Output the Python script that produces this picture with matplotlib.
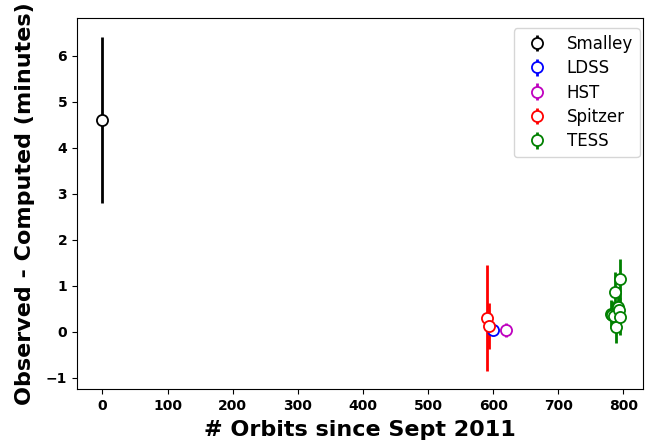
import matplotlib
matplotlib.use("Agg")
import matplotlib.pyplot as plt

smalley_x = [0]
smalley_y = [4.6]
smalley_err = [1.8]

ldss_x = [599]
ldss_y = [0.04]
ldss_err = [0.05]

hst_x = [619]
hst_y = [0.04]
hst_err = [0.16]

spitzer_x = [591, 594]
spitzer_y = [0.29, 0.13]
spitzer_err = [1.15, 0.5]

tess_x = [781, 783, 785, 787, 789, 792, 793, 794, 795]
tess_y = [0.38, 0.36, 0.35, 0.86, 0.11, 0.54, 0.47, 0.33, 1.15]
tess_err = [0.3, 0.3, 0.3, 0.44, 0.36, 0.4, 0.4, 0.4, 0.43]

fig = plt.figure(figsize=(6.49, 4.43), dpi=100)
ax = fig.add_axes([0.1186, 0.1219, 0.8722, 0.8375])

series = [
    ("Smalley", smalley_x, smalley_y, smalley_err, "k"),
    ("LDSS", ldss_x, ldss_y, ldss_err, "b"),
    ("HST", hst_x, hst_y, hst_err, "m"),
    ("Spitzer", spitzer_x, spitzer_y, spitzer_err, "r"),
    ("TESS", tess_x, tess_y, tess_err, "g"),
]
for name, x, y, e, c in series:
    ax.errorbar(x, y, yerr=e, fmt="o", color=c, ecolor=c, elinewidth=2,
                markersize=8, markerfacecolor="white", markeredgecolor=c,
                markeredgewidth=1.3, label=name)

ax.set_xlim(-39, 830)
ax.set_ylim(-1.245, 6.82)
ax.set_xticks(range(0, 801, 100))
ax.set_yticks(range(-1, 7))
for lab in ax.get_xticklabels() + ax.get_yticklabels():
    lab.set_fontweight("bold")
    lab.set_fontsize(10)
ax.set_xlabel("# Orbits since Sept 2011", fontsize=16, fontweight="bold", labelpad=5)
ax.set_ylabel("Observed - Computed (minutes)", fontsize=16, fontweight="bold", labelpad=8)
ax.legend(loc="upper right", fontsize=12, labelspacing=0.38,
          bbox_to_anchor=(1.009, 0.995))

fig.savefig("out.png", dpi=100)
